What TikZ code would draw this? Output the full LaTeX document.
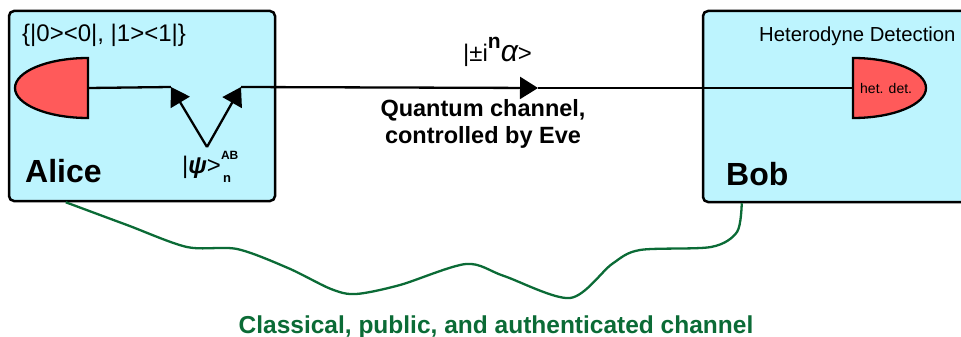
\documentclass[tikz,border=0pt]{standalone}
\usepackage{fontspec}
\setmainfont{Liberation Sans}
\usetikzlibrary{arrows.meta,calc}
\definecolor{cyanbox}{HTML}{BDF4FE}
\definecolor{detred}{HTML}{FF5A5A}
\definecolor{pubgreen}{HTML}{0B6B36}
\tikzset{party/.style={draw,line width=2.5pt,fill=cyanbox,rounded corners=5pt,inner sep=0pt},
det/.style={draw,line width=2.3pt,fill=detred},
qline/.style={line width=2.3pt},
qarrow/.style={qline,-{Triangle[length=18pt,width=22pt]}},
lab/.style={inner sep=0pt,anchor=base west,font=\fontsize{24}{29}\selectfont},
who/.style={inner sep=0pt,anchor=base west,font=\fontsize{32}{38}\selectfont\bfseries},
classic/.style={pubgreen,line width=2.3pt}}
\begin{document}
\begin{tikzpicture}[x=1pt,y=-1pt]
\clip (0,0) rectangle (961,337);
\node[party,minimum width=266pt,minimum height=190pt] (alice) at (142,106) {};
\node[party,minimum width=290pt,minimum height=191pt] (bob) at (848,106.5) {};
\draw[det] (88,58) arc[start angle=270,end angle=90,x radius=73,y radius=30] -- cycle;
\draw[det] (853,58) arc[start angle=270,end angle=450,x radius=73,y radius=30] -- cycle;
\coordinate (aout) at (88,88);
\coordinate (bin) at (853,88);
\coordinate (vtip) at (207,147);
\coordinate (tipL) at (171,87);
\coordinate (tipR) at (241,87);
\coordinate (qmid) at (538,88);
\draw[qline] (aout) -- (tipL);
\draw[qarrow] (vtip) -- (tipL);
\draw[qarrow] (vtip) -- (tipR);
\draw[qarrow] (tipR) -- (qmid);
\draw[qline] (qmid) -- (bin);
\node[lab] (basis) at (22,42) {\{|0><0|, |1><1|\}};
\node[who] (alicename) at (25,182) {Alice};
\node[who] (bobname) at (726,185) {Bob};
\node[lab,font=\fontsize{20.3}{24}\selectfont] (hettitle) at (759,42) {Heterodyne Detection};
\node[lab,font=\fontsize{14}{17}\selectfont] (hetdet) at (860,93) {het. det.};
\node[lab] (state) at (463,62) {|±i\raisebox{.55em}{\fontsize{21}{21}\selectfont\bfseries n}{\fontsize{30}{30}\selectfont\itshape α}>};
\node[lab] (psi) at (182,173) {|{\bfseries\itshape ψ}>\rlap{\raisebox{.55em}{\fontsize{12}{12}\selectfont\bfseries AB}}\raisebox{-.38em}{\fontsize{13}{13}\selectfont\bfseries\,n}};
\node[inner sep=0pt,align=center,font=\fontsize{23.5}{27}\selectfont\bfseries,anchor=north] (qlabel) at (483,99) {Quantum channel,\\controlled by Eve};
\coordinate (cA) at ($(alice.south west)+(58,0)$);
\coordinate (cB) at ($(bob.south west)+(40,0)$);
\draw[classic] plot[smooth,tension=.5] coordinates {(cA) (127,225) (187,247) (237,249) (288,268) (331,289) (356,294) (400,285) (466,264) (504,276) (570,298) (612,264) (640,250) (711,247) (737,232) (cB)};
\node[inner sep=0pt,anchor=base,text=pubgreen,font=\fontsize{24.5}{29}\selectfont\bfseries] (pub) at (496,333) {Classical, public, and authenticated channel};
\end{tikzpicture}
\end{document}
